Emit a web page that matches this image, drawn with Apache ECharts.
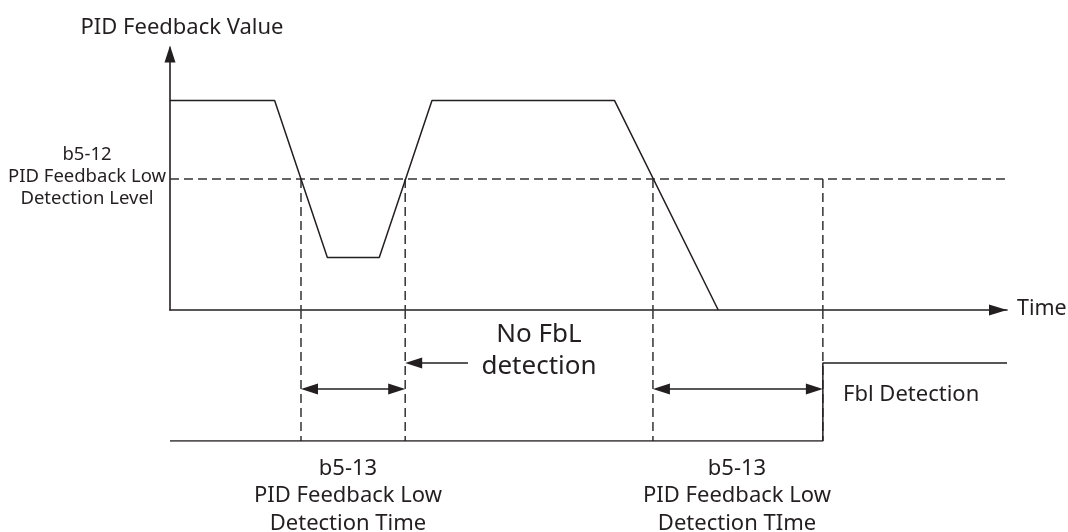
<!DOCTYPE html>
<html><head><meta charset="utf-8">
<script src="https://cdn.jsdelivr.net/npm/echarts@6/dist/echarts.min.js"></script>
<style>html,body{margin:0;padding:0;background:#fff}#c{width:1068px;height:532px}</style>
</head><body><div id="c"></div>
<script>
// ---- data (time units 0..100, feedback value units 0..125) ----
const feedbackTime  = [0, 12.5, 18.8, 25.0, 31.3, 53.1, 65.5];
const feedbackValue = [100, 100, 25, 25, 100, 100, 0];
const detectionLevel = 62.5;
const levelSpan = [0, 100];
const verticalMarks = [15.65, 28.1, 57.7, 78.0];   // level crossings + FbL detection instant
const outputTime  = [0, 78.0, 78.0, 100];
const outputState = [0, 0, 1, 1];
const dimArrows = [[15.65, 28.1], [57.7, 78.0]];   // b5-13 time spans
const dimArrowState = 0.667;
const noFblArrow = [28.1, 35.6];
const noFblArrowState = 1.0;
const labels = {
  yName: 'PID Feedback Value',
  xName: 'Time',
  level: 'b5-12\nPID Feedback Low\nDetection Level',
  time1: 'b5-13\nPID Feedback Low\nDetection Time',
  time2: 'b5-13\nPID Feedback Low\nDetection TIme',
  noFbl: 'No FbL\ndetection',
  fbl: 'Fbl Detection'
};

const INK = '#231f20';
const DASH = '#333333';
const FONT = 'Noto Sans';
const DASHPAT = [9, 5];

const chart = echarts.init(document.getElementById('c'), null, {renderer: 'canvas'});

function vline(from) {
  return function (params, api) {
    const x = api.value(0);
    const top = from === 'level' ? detectionLevel : api.value(1);
    const p1 = api.coord([x, top]);
    const p2 = api.coord([x, 0]);
    return {type: 'line', shape: {x1: p1[0], y1: p1[1], x2: p2[0], y2: p2[1]},
      style: {stroke: DASH, lineWidth: 1.5, lineDash: DASHPAT}};
  };
}

function arrowItem(params, api) {
  const x1 = api.value(0), x2 = api.value(1), y = api.value(2), mode = api.value(3);
  const p1 = api.coord([x1, y]), p2 = api.coord([x2, y]);
  const L = 17, H = 5.5;
  const left = mode & 1, right = mode & 2;
  const lx = left ? p1[0] + L - 1 : p1[0];
  const rx = right ? p2[0] - L + 1 : p2[0];
  const ch = [{type: 'line', shape: {x1: lx, y1: p1[1], x2: rx, y2: p2[1]}, style: {stroke: INK, lineWidth: 1.5}}];
  if (left) ch.push({type: 'polygon', shape: {points: [[p1[0], p1[1]], [p1[0] + L, p1[1] - H], [p1[0] + L, p1[1] + H]]}, style: {fill: INK}});
  if (right) ch.push({type: 'polygon', shape: {points: [[p2[0], p2[1]], [p2[0] - L, p2[1] - H], [p2[0] - L, p2[1] + H]]}, style: {fill: INK}});
  return {type: 'group', children: ch};
}

const txt = (t, x, y, size, align, lh) => ({
  type: 'text', x: x, y: y,
  style: {text: t, fill: INK, font: size + 'px "' + FONT + '"', textAlign: align || 'center',
    textVerticalAlign: 'middle', lineHeight: lh || size * 1.2}
});

const option = {
  animation: false,
  backgroundColor: '#fff',
  grid: [
    {left: 170, right: 61, top: 48, bottom: 222},
    {left: 170, right: 61, top: 310, bottom: 91}
  ],
  xAxis: [
    {type: 'value', gridIndex: 0, min: 0, max: 100,
      axisLine: {show: true, onZero: false, symbol: ['none', 'triangle'], symbolSize: [11, 18], symbolOffset: [0, -9],
        lineStyle: {color: INK, width: 1.6}},
      axisTick: {show: false}, axisLabel: {show: false}, splitLine: {show: false}},
    {type: 'value', gridIndex: 1, min: 0, max: 100, show: false}
  ],
  yAxis: [
    {type: 'value', gridIndex: 0, min: 0, max: 125,
      axisLine: {show: true, onZero: false, symbol: ['none', 'triangle'], symbolSize: [11, 17], symbolOffset: [0, -6],
        lineStyle: {color: INK, width: 1.6}},
      axisTick: {show: false}, axisLabel: {show: false}, splitLine: {show: false}},
    {type: 'value', gridIndex: 1, min: 0, max: 1.68, show: false}
  ],
  series: [
    {type: 'line', xAxisIndex: 0, yAxisIndex: 0, symbol: 'none',
      data: levelSpan.map(t => [t, detectionLevel]),
      lineStyle: {color: DASH, width: 1.5, type: DASHPAT}},
    {type: 'custom', xAxisIndex: 0, yAxisIndex: 0, renderItem: vline('level'),
      data: verticalMarks.map(t => [t]), clip: false},
    {type: 'custom', xAxisIndex: 1, yAxisIndex: 1, renderItem: vline('top'),
      data: verticalMarks.map(t => [t, 1.68]), clip: false},
    {type: 'line', xAxisIndex: 0, yAxisIndex: 0, symbol: 'none',
      data: feedbackTime.map((t, i) => [t, feedbackValue[i]]),
      lineStyle: {color: INK, width: 1.5}},
    {type: 'line', xAxisIndex: 1, yAxisIndex: 1, symbol: 'none',
      data: outputTime.map((t, i) => [t, outputState[i]]),
      lineStyle: {color: INK, width: 1.5}},
    {type: 'custom', xAxisIndex: 1, yAxisIndex: 1, renderItem: arrowItem, clip: false,
      data: dimArrows.map(a => [a[0], a[1], dimArrowState, 3]).concat([[noFblArrow[0], noFblArrow[1], noFblArrowState, 1]])}
  ],
  graphic: [
    txt(labels.yName, 182, 28, 22),
    txt(labels.xName, 1017, 309, 21.5, 'left'),
    txt(labels.level, 87, 177, 18.5, 'center', 22),
    txt(labels.noFbl, 539, 351, 26, 'center', 32),
    txt(labels.fbl, 843, 395, 22, 'left'),
    txt(labels.time1, 348, 496, 22, 'center', 27.5),
    txt(labels.time2, 737, 496, 22, 'center', 27.5)
  ]
};
chart.setOption(option);
</script></body></html>
